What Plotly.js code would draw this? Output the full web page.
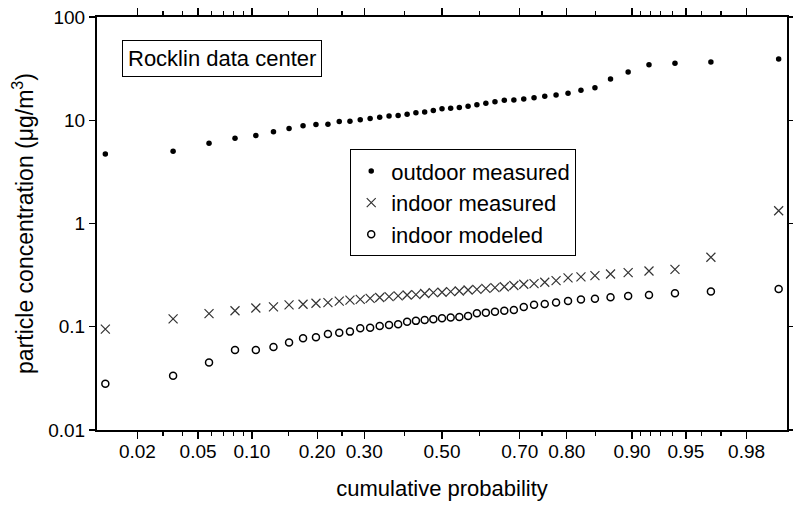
<!DOCTYPE html>
<html>
<head>
<meta charset="utf-8">
<script src="https://cdn.plot.ly/plotly-3.0.1.min.js"></script>
<style>html,body{margin:0;padding:0;background:#fff;}#chart{width:793px;height:506px;}</style>
</head>
<body>
<div id="chart"></div>
<script>
// cumulative probability (plotting position) of each ranked observation
const cumProb = [0.0116, 0.0349, 0.0581, 0.0814, 0.1047, 0.1279, 0.1512, 0.1744, 0.1977, 0.2209,
  0.2442, 0.2674, 0.2907, 0.3140, 0.3372, 0.3605, 0.3837, 0.4070, 0.4302, 0.4535,
  0.4767, 0.5000, 0.5233, 0.5465, 0.5698, 0.5930, 0.6163, 0.6395, 0.6628, 0.6860,
  0.7093, 0.7326, 0.7558, 0.7791, 0.8023, 0.8256, 0.8488, 0.8721, 0.8953, 0.9186,
  0.9419, 0.9651, 0.9884];

const outdoorMeasured = [4.7, 5.0, 6.0, 6.7, 7.1, 7.75, 8.3, 8.85, 9.1, 9.15,
  9.7, 9.8, 10.1, 10.4, 10.7, 11.0, 11.1, 11.4, 11.8, 12.0,
  12.45, 12.9, 13.1, 13.3, 13.7, 14.1, 14.6, 15.1, 15.6, 15.7,
  16.1, 16.5, 17.1, 17.6, 18.3, 19.5, 20.7, 25.1, 29.3, 34.5,
  35.6, 36.7, 39.2];

const indoorMeasured = [0.095, 0.119, 0.134, 0.143, 0.152, 0.156, 0.163, 0.165, 0.169, 0.171,
  0.177, 0.181, 0.184, 0.188, 0.192, 0.196, 0.199, 0.203, 0.205, 0.210,
  0.214, 0.216, 0.219, 0.222, 0.227, 0.230, 0.235, 0.239, 0.244, 0.251,
  0.258, 0.262, 0.270, 0.280, 0.297, 0.304, 0.313, 0.324, 0.334, 0.347,
  0.360, 0.471, 1.33];

const indoorModeled = [0.028, 0.0336, 0.045, 0.0596, 0.0596, 0.0637, 0.0705, 0.0773, 0.079, 0.085,
  0.0877, 0.0897, 0.0967, 0.098, 0.1017, 0.104, 0.106, 0.112, 0.114, 0.116,
  0.118, 0.121, 0.123, 0.124, 0.127, 0.135, 0.137, 0.140, 0.143, 0.145,
  0.155, 0.163, 0.166, 0.172, 0.178, 0.184, 0.187, 0.193, 0.199, 0.203,
  0.211, 0.219, 0.232];

const seriesNames = ["outdoor measured", "indoor measured", "indoor modeled"];

// probability-axis ticks
const xMajorProbs = [0.02, 0.05, 0.10, 0.20, 0.30, 0.50, 0.70, 0.80, 0.90, 0.95, 0.98];
const xMajorLabels = ["0.02", "0.05", "0.10", "0.20", "0.30", "0.50", "0.70", "0.80", "0.90", "0.95", "0.98"];
const xMinorProbs = [0.03, 0.04, 0.06, 0.07, 0.08, 0.09, 0.15, 0.25, 0.40, 0.60, 0.75, 0.85, 0.91, 0.92, 0.93, 0.94, 0.96, 0.97];
const xRangeProbs = [0.01, 0.99];

const yTickVals = [0.01, 0.1, 1, 10, 100];
const yTickLabels = ["0.01", "0.1", "1", "10", "100"];

// inverse standard normal CDF (Acklam) -> normal probability scale
function probit(p) {
  const a = [-3.969683028665376e+01, 2.209460984245205e+02, -2.759285104469687e+02, 1.383577518672690e+02, -3.066479806614716e+01, 2.506628277459239e+00];
  const b = [-5.447609879822406e+01, 1.615858368580409e+02, -1.556989798598866e+02, 6.680131188771972e+01, -1.328068155288572e+01];
  const c = [-7.784894002430293e-03, -3.223964580411365e-01, -2.400758277161838e+00, -2.549671669539069e+00, 4.374664141464968e+00, 2.938163982698783e+00];
  const d = [7.784695709041462e-03, 3.224671290700398e-01, 2.445134137142996e+00, 3.754408661907416e+00];
  const pl = 0.02425, ph = 1 - pl;
  let q, r;
  if (p < pl) {
    q = Math.sqrt(-2 * Math.log(p));
    return (((((c[0]*q+c[1])*q+c[2])*q+c[3])*q+c[4])*q+c[5]) / ((((d[0]*q+d[1])*q+d[2])*q+d[3])*q+1);
  } else if (p <= ph) {
    q = p - 0.5; r = q*q;
    return (((((a[0]*r+a[1])*r+a[2])*r+a[3])*r+a[4])*r+a[5])*q / (((((b[0]*r+b[1])*r+b[2])*r+b[3])*r+b[4])*r+1);
  } else {
    q = Math.sqrt(-2 * Math.log(1 - p));
    return -(((((c[0]*q+c[1])*q+c[2])*q+c[3])*q+c[4])*q+c[5]) / ((((d[0]*q+d[1])*q+d[2])*q+d[3])*q+1);
  }
}

const xz = cumProb.map(probit);
const FONT = "Liberation Sans, Arial, sans-serif";

const traces = [
  {x: xz, y: outdoorMeasured, name: seriesNames[0], type: "scatter", mode: "markers",
   marker: {symbol: "circle", size: 5.5, color: "#000"}},
  {x: xz, y: indoorMeasured, name: seriesNames[1], type: "scatter", mode: "markers",
   marker: {symbol: "x-thin-open", size: 9, color: "#333", line: {width: 1.2, color: "#333"}}},
  {x: xz, y: indoorModeled, name: seriesNames[2], type: "scatter", mode: "markers",
   marker: {symbol: "circle-open", size: 7, color: "#000", line: {width: 1.5, color: "#000"}}}
];

const xr = xRangeProbs.map(probit);

const layout = {
  width: 793, height: 506,
  margin: {l: 97, r: 6, t: 17, b: 76},
  paper_bgcolor: "#fff", plot_bgcolor: "#fff",
  font: {family: FONT, size: 19, color: "#000"},
  showlegend: true,
  legend: {x: 0.367, y: 0.68, xanchor: "left", yanchor: "top",
           bordercolor: "#000", borderwidth: 1, bgcolor: "#fff",
           font: {family: FONT, size: 22, color: "#000"}},
  xaxis: {
    type: "linear", range: xr, showgrid: false, zeroline: false,
    showline: true, linecolor: "#000", linewidth: 2, mirror: "allticks",
    ticks: "outside", ticklen: 7, tickwidth: 1.2, tickcolor: "#000",
    tickmode: "array", tickvals: xMajorProbs.map(probit), ticktext: xMajorLabels,
    ticklabelstandoff: -4,
    tickfont: {family: FONT, size: 19, color: "#000"},
    minor: {tickmode: "array", tickvals: xMinorProbs.map(probit), ticks: "outside", ticklen: 4, tickwidth: 1.2, tickcolor: "#000", showgrid: false},
    title: {text: "cumulative probability", font: {family: FONT, size: 22, color: "#000"}, standoff: 20}
  },
  xaxis2: {
    type: "linear", overlaying: "x", matches: "x", anchor: "y", showgrid: false, zeroline: false,
    showline: false, mirror: "allticks", showticklabels: false,
    ticks: "inside", ticklen: 7, tickwidth: 1.2, tickcolor: "#000",
    tickmode: "array", tickvals: xMajorProbs.map(probit),
    minor: {tickmode: "array", tickvals: xMinorProbs.map(probit), ticks: "inside", ticklen: 4, tickwidth: 1.2, tickcolor: "#000", showgrid: false}
  },
  yaxis: {
    type: "log", range: [-2, 2], showgrid: false, zeroline: false,
    showline: true, linecolor: "#000", linewidth: 2, mirror: "allticks",
    ticks: "outside", ticklen: 6, tickwidth: 1.2, tickcolor: "#000",
    tickmode: "array", tickvals: yTickVals, ticktext: yTickLabels,
    tickfont: {family: FONT, size: 19, color: "#000"},
    title: {text: "particle concentration (\u03bcg/m<sup>3</sup>)", font: {family: FONT, size: 23, color: "#000"}, standoff: 8}
  },
  yaxis2: {
    type: "log", overlaying: "y", matches: "y", anchor: "x", side: "right", showgrid: false, zeroline: false,
    showline: false, showticklabels: false,
    ticks: "inside", ticklen: 6, tickwidth: 1.2, tickcolor: "#000",
    tickmode: "array", tickvals: yTickVals
  },
  annotations: [{
    xref: "paper", yref: "paper", x: 0.1807, y: 0.9005, xanchor: "center", yanchor: "middle",
    text: "Rocklin data center", showarrow: false,
    font: {family: FONT, size: 22, color: "#000"},
    bordercolor: "#000", borderwidth: 1, borderpad: 5, bgcolor: "#fff"
  }]
};

Plotly.newPlot("chart", traces, layout, {displayModeBar: false, staticPlot: true});
</script>
</body>
</html>
